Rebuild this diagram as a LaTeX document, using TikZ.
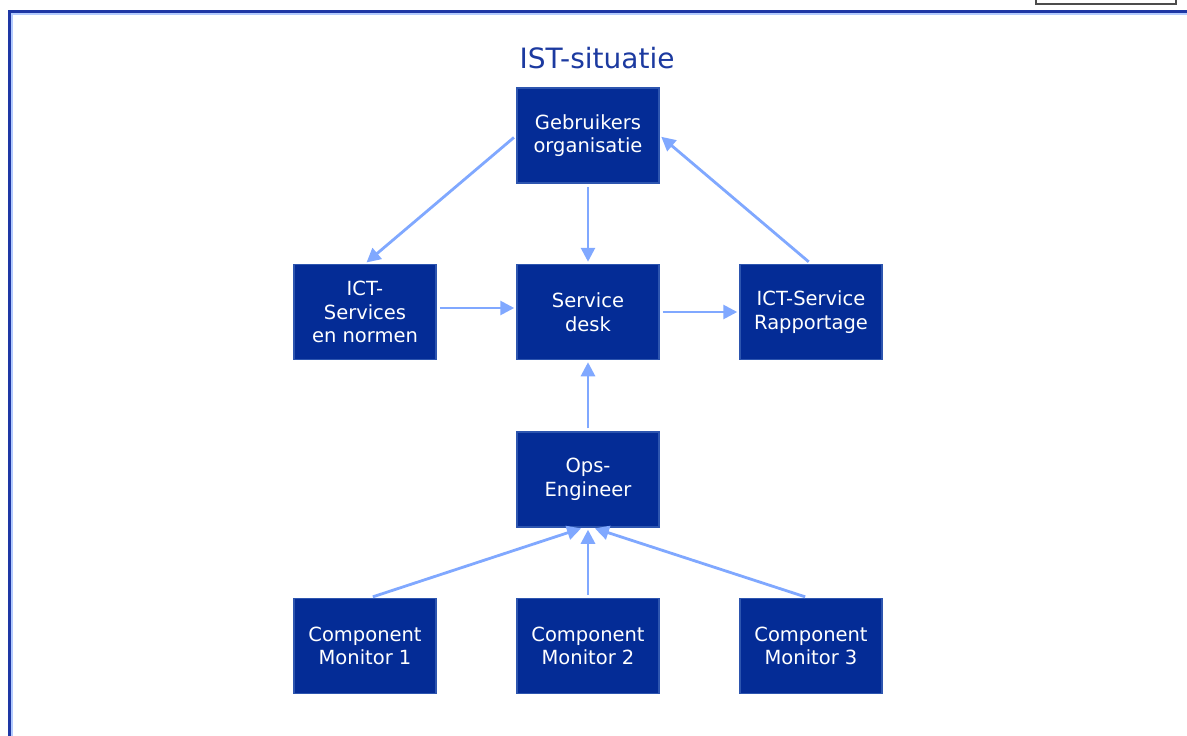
\documentclass[tikz,border=0pt]{standalone}
\usepackage{fontspec}
\setmainfont{DejaVu Sans}
\usetikzlibrary{arrows.meta}
\definecolor{boxblue}{RGB}{4,44,150}
\definecolor{boxedge}{RGB}{45,85,175}
\definecolor{arrowblue}{RGB}{128,168,255}
\definecolor{titleblue}{RGB}{28,58,160}
\definecolor{frameblue}{RGB}{30,55,165}
\tikzset{
  blk/.style={draw=boxedge, line width=1.5pt, fill=boxblue, text=white,
    minimum width=142pt, minimum height=95pt, inner sep=0pt, align=center,
    font=\fontsize{19.5}{23.5}\selectfont},
  conn/.style={draw=arrowblue, line width=2.8pt,
    -{Triangle[length=14pt,width=14pt]}, shorten <=3pt, shorten >=2pt}
}
\begin{document}
\begin{tikzpicture}[x=1pt,y=-1pt]
\useasboundingbox (0,0) rectangle (1187,736);
\fill[white] (0,0) rectangle (1187,736);
% frame
\begin{scope}
\clip (0,0) rectangle (1187,736);
\draw[frameblue, line width=3.5pt] (9.5,740) -- (9.5,11.5) -- (1190,11.5);
\draw[arrowblue!60, line width=1.2pt] (12,740) -- (12,14) -- (1190,14);
\draw[black!70, line width=2pt, fill=white] (1036,-5) rectangle (1176,4);
\end{scope}
\node[font=\fontsize{28}{33}\selectfont, text=titleblue] (title) at (597,58) {IST-situatie};
\node[blk] (gebr) at (588,135.5) {Gebruikers\\organisatie};
\node[blk] (ict)  at (365,312) {ICT-\\Services\\en normen};
\node[blk] (sd)   at (588,312) {Service\\desk};
\node[blk] (rap)  at (811,312) {ICT-Service\\Rapportage};
\node[blk] (ops)  at (588,479.5) {Ops-\\Engineer};
\node[blk] (cm1)  at (365,646) {Component\\Monitor 1};
\node[blk] (cm2)  at (588,646) {Component\\Monitor 2};
\node[blk] (cm3)  at (811,646) {Component\\Monitor 3};
\draw[conn] (gebr.west) -- (ict.north);
\draw[conn] (gebr.south) -- (sd.north);
\draw[conn] (rap.north) -- (gebr.east);
\draw[conn] ([yshift=4pt]ict.east) -- ([yshift=4pt]sd.west);
\draw[conn] (sd.east) -- (rap.west);
\draw[conn] (ops.north) -- (sd.south);
\draw[conn] ([xshift=5pt]cm1.north) -- ([xshift=-5pt]ops.south);
\draw[conn] (cm2.north) -- (ops.south);
\draw[conn] ([xshift=-3pt]cm3.north) -- ([xshift=5pt]ops.south);
\end{tikzpicture}
\end{document}
